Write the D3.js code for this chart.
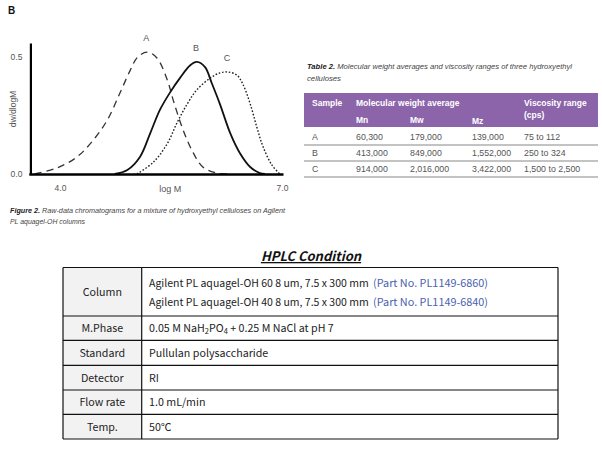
<!DOCTYPE html>
<html><head><meta charset="utf-8">
<script src="https://cdn.jsdelivr.net/npm/d3@7"></script>
<style>
body{margin:0;background:#fff;}
svg{display:block;}
.cond{font-family:"Liberation Sans Narrow","Liberation Sans",Arial,sans-serif;}
.kr{font-family:"Noto Sans CJK KR","Noto Sans",sans-serif;}
</style></head>
<body>
<svg id="c" width="602" height="458"></svg>
<script>
// ---- Figure 2 data (log M vs dw/dlogM) ----
const logMA = [3.66,3.96,4.23,4.45,4.64,4.81,4.95,5.05,5.18,5.31,5.45,5.53,5.65,5.78,5.93,6.12,6.30];
const valA  = [0,0.026,0.073,0.145,0.231,0.346,0.444,0.50,0.521,0.496,0.402,0.316,0.20,0.103,0.03,0.004,0];
const logMB = [4.74,4.91,5.08,5.22,5.35,5.49,5.62,5.76,5.85,5.96,6.05,6.16,6.30,6.43,6.57,6.70,6.77];
const valB  = [0,0.017,0.073,0.175,0.274,0.35,0.41,0.465,0.479,0.457,0.389,0.30,0.175,0.09,0.03,0.004,0];
const logMC = [5.04,5.26,5.45,5.58,5.72,5.85,6.03,6.16,6.27,6.39,6.47,6.57,6.66,6.74,6.86,6.97];
const valC  = [0,0.05,0.13,0.218,0.30,0.36,0.41,0.432,0.436,0.423,0.385,0.30,0.20,0.12,0.04,0];
const seriesNames = ["A","B","C"];
const xTicks = [4.0, 7.0];
const yTicks = [0.0, 0.5];

// ---- Table 2 data ----
const t2Samples = ["A","B","C"];
const t2Mn = ["60,300","413,000","914,000"];
const t2Mw = ["179,000","849,000","2,016,000"];
const t2Mz = ["139,000","1,552,000","3,422,000"];
const t2Visc = ["75 to 112","250 to 324","1,500 to 2,500"];

// ---- HPLC condition ----
const hplcLabels = ["Column","M.Phase","Standard","Detector","Flow rate","Temp."];
const hplcValues = [
  [["Agilent PL aquagel-OH 60 8 um, 7.5 x 300 mm ","(Part No. PL1149-6860)"],
   ["Agilent PL aquagel-OH 40 8 um, 7.5 x 300 mm ","(Part No. PL1149-6840)"]],
  null,
  "Pullulan polysaccharide","RI","1.0 mL/min","50\u2103"];

const svg = d3.select("#c");
svg.append("rect").attr("width",602).attr("height",458).attr("fill","#fff");

// Panel letter
svg.append("text").attr("x",8).attr("y",14).attr("font-family","Liberation Sans, Arial")
  .attr("font-weight","bold").attr("font-size",10).attr("fill","#111").text("B");

// ---- chart ----
const x = d3.scaleLinear().domain([3.6,7.0]).range([30.4,282]);
const y = d3.scaleLinear().domain([0,0.56]).range([174,43]);
const g = svg.append("g");

const line = d3.line().x(d=>x(d[0])).y(d=>y(d[1])).curve(d3.curveCatmullRom.alpha(0.5));
const series = [
  {name:"A", xs:logMA, ys:valA, dash:"7,5", w:1.3, color:"#333"},
  {name:"B", xs:logMB, ys:valB, dash:null, w:1.8, color:"#111"},
  {name:"C", xs:logMC, ys:valC, dash:"1.6,1.8", w:1.4, color:"#222"}
];
series.forEach(s=>{
  const pts = s.xs.map((v,i)=>[v,s.ys[i]]);
  const p = g.append("path").attr("d",line(pts)).attr("fill","none")
    .attr("stroke",s.color).attr("stroke-width",s.w);
  if(s.dash) p.attr("stroke-dasharray",s.dash);
});

// series labels at peaks
series.forEach(s=>{
  const i = d3.maxIndex(s.ys);
  g.append("text").attr("class","cond").attr("x",x(s.xs[i])-1).attr("y",y(s.ys[i])-11)
    .attr("text-anchor","middle").attr("font-size",9).attr("fill","#555").text(s.name);
});

// axes
const yAxis = d3.axisLeft(y).tickValues(yTicks).tickSize(0).tickPadding(8).tickFormat(d3.format(".1f"));
const ya = g.append("g").attr("transform","translate(30.4,0)").call(yAxis);
ya.select(".domain").attr("stroke","#000").attr("stroke-width",2.2);
ya.selectAll("text").attr("class","cond").attr("font-size",8.5).attr("fill","#555");

const xAxis = d3.axisBottom(x).tickValues(xTicks).tickSize(0).tickPadding(10).tickFormat(d3.format(".1f"));
const xa = g.append("g").attr("transform","translate(0,174.5)").call(xAxis);
xa.select(".domain").attr("stroke","#000").attr("stroke-width",2.6).attr("d","M29.3,0H283.5");
xa.selectAll("text").attr("class","cond").attr("font-size",8.5).attr("fill","#555");
g.append("text").attr("class","cond").attr("x",x(5.49)).attr("y",191.5).attr("text-anchor","middle")
  .attr("font-size",9).attr("fill","#555").text("log M");
g.append("text").attr("class","cond").attr("transform","translate(15.5,109) rotate(-90)")
  .attr("text-anchor","middle").attr("font-size",8.5).attr("fill","#555").text("dw/dlogM");

// figure caption
const cap = svg.append("text").attr("class","cond").attr("x",10).attr("y",213)
  .attr("font-size",8).attr("font-style","italic").attr("fill","#444")
  .attr("textLength",275).attr("lengthAdjust","spacingAndGlyphs");
cap.append("tspan").attr("font-weight","bold").attr("fill","#222").text("Figure 2.");
cap.append("tspan").text(" Raw-data chromatograms for a mixture of hydroxyethyl celluloses on Agilent");
svg.append("text").attr("class","cond").attr("x",10).attr("y",224)
  .attr("font-size",8).attr("font-style","italic").attr("fill","#444")
  .attr("textLength",75).attr("lengthAdjust","spacingAndGlyphs").text("PL aquagel-OH columns");

// ---- Table 2 ----
const tcap = svg.append("text").attr("class","cond").attr("x",307).attr("y",69)
  .attr("font-size",8).attr("font-style","italic").attr("fill","#444")
  .attr("textLength",265).attr("lengthAdjust","spacingAndGlyphs");
tcap.append("tspan").attr("font-weight","bold").attr("fill","#222").text("Table 2.");
tcap.append("tspan").text(" Molecular weight averages and viscosity ranges of three hydroxyethyl");
svg.append("text").attr("class","cond").attr("x",307).attr("y",81)
  .attr("font-size",8).attr("font-style","italic").attr("fill","#444")
  .attr("textLength",34).attr("lengthAdjust","spacingAndGlyphs").text("celluloses");

const tX0 = 304, tX1 = 598;
svg.append("rect").attr("x",tX0).attr("y",93).attr("width",tX1-tX0).attr("height",34).attr("fill","#8c64aa");
const colX = [312,356,410,472,524];
const hdr = (t,xx,yy)=>svg.append("text").attr("class","cond").attr("x",xx).attr("y",yy)
  .attr("font-size",8.5).attr("font-weight","bold").attr("fill","#fff").text(t);
hdr("Sample",colX[0],106); hdr("Molecular weight average",colX[1],106);
hdr("Viscosity range",colX[4],106); hdr("(cps)",colX[4],118);
hdr("Mn",colX[1],123); hdr("Mw",colX[2],123); hdr("Mz",colX[3],124);

const rowY = d3.scaleBand().domain(t2Samples).range([129,177]);
t2Samples.forEach((s,i)=>{
  const yy = rowY(s)+rowY.bandwidth()/2+3;
  [s,t2Mn[i],t2Mw[i],t2Mz[i],t2Visc[i]].forEach((v,j)=>{
    svg.append("text").attr("class","cond").attr("x",colX[j]).attr("y",yy)
      .attr("font-size",8.8).attr("fill","#555").text(v);
  });
  svg.append("line").attr("x1",tX0).attr("x2",tX1).attr("y1",rowY(s)+rowY.bandwidth())
    .attr("y2",rowY(s)+rowY.bandwidth()).attr("stroke","#888").attr("stroke-width",1.2);
});

// ---- HPLC condition ----
svg.append("text").attr("class","kr").attr("x",311).attr("y",261).attr("text-anchor","middle")
  .attr("font-size",13).attr("font-weight","bold").attr("font-style","italic")
  .attr("fill","#111").attr("text-decoration","underline").text("HPLC Condition");

const rowEdges = [267.5,316,340.3,365.3,390,414.3,439];
const L = 63, M = 141.7, R = 558;
hplcLabels.forEach((lab,i)=>{
  const y0 = rowEdges[i], y1 = rowEdges[i+1];
  svg.append("rect").attr("x",L).attr("y",y0).attr("width",M-L).attr("height",y1-y0).attr("fill","#f2f2f2");
  svg.append("text").attr("class","kr").attr("x",(L+M)/2).attr("y",(y0+y1)/2+4)
    .attr("text-anchor","middle").attr("font-size",10.7).attr("fill","#222").text(lab);
});
// grid lines
rowEdges.forEach(v=>svg.append("line").attr("x1",L).attr("x2",R).attr("y1",v).attr("y2",v)
  .attr("stroke","#111").attr("stroke-width",1.2));
[L,M,R].forEach(v=>svg.append("line").attr("x1",v).attr("x2",v).attr("y1",rowEdges[0]).attr("y2",rowEdges[6])
  .attr("stroke","#111").attr("stroke-width",1.2));

const VX = 149;
// Column row
hplcValues[0].forEach((ln,k)=>{
  const t = svg.append("text").attr("class","kr").attr("x",VX).attr("y",287+k*19)
    .attr("font-size",10.7).attr("fill","#222");
  t.append("tspan").attr("textLength",222).attr("lengthAdjust","spacingAndGlyphs").text(ln[0]);
  t.append("tspan").attr("x",373).attr("fill","#4a5fb0").attr("textLength",115)
    .attr("lengthAdjust","spacingAndGlyphs").text(ln[1]);
});
// M.Phase row with subscripts
{
  const t = svg.append("text").attr("class","kr").attr("x",VX).attr("y",332).attr("font-size",10.7).attr("fill","#222");
  const parts = [["0.05 M NaH",0],["2",1],["PO",-1],["4",1],[" + 0.25 M NaCl at pH 7",-1]];
  parts.forEach(p=>{
    const ts = t.append("tspan").text(p[0]);
    if(p[1]===1) ts.attr("font-size",7.5).attr("dy",2);
    else if(p[1]===-1) ts.attr("dy",-2);
  });
}
[2,3,4,5].forEach(i=>{
  svg.append("text").attr("class","kr").attr("x",VX).attr("y",(rowEdges[i]+rowEdges[i+1])/2+4)
    .attr("font-size",10.7).attr("fill","#222").text(hplcValues[i]);
});
</script>
</body></html>
